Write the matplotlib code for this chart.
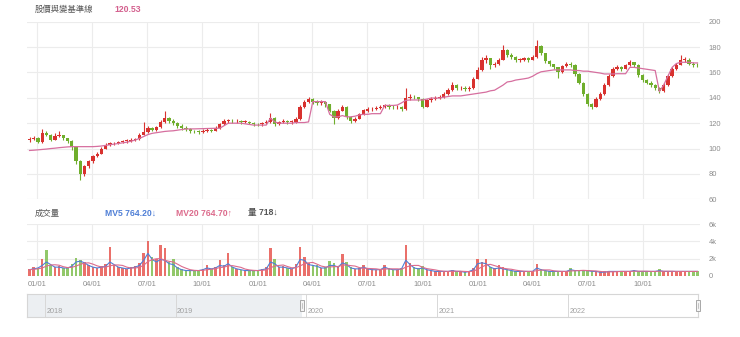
import matplotlib
matplotlib.use("Agg")
import matplotlib.pyplot as plt
import matplotlib.dates as mdates
import numpy as np
import pandas as pd
from matplotlib.patches import Rectangle
from matplotlib.transforms import blended_transform_factory

# ---------------- data (weekly candles) ----------------
start_date = "2019-12-20"

open_ = [106.5, 107.5, 108.5, 105, 112, 111, 107, 110, 110.5, 108,
         106, 101, 90, 80, 86, 90, 94, 96, 100, 103,
         104, 104, 105, 106, 106, 107, 107.5, 111, 113, 116,
         115, 117, 121, 124, 122, 120, 118, 116.5, 115.5, 114,
         113.5, 113, 114, 114.5, 114, 116, 119, 122, 122, 121.5,
         122, 121, 121, 120.5, 119.5, 119, 120, 121, 124, 119,
         121, 122, 121, 121, 123, 133, 137, 139, 137, 136,
         136.5, 135, 130, 124, 130, 133, 125, 122, 123.5, 127,
         130, 131, 131, 132, 133, 134, 133, 132.5, 133, 131,
         140, 141, 140.5, 139, 133, 138, 139, 140, 140.5, 143,
         146, 150, 147.5, 148, 147, 147.5, 155, 162, 170, 171,
         166, 167, 170, 178, 174, 172, 170, 170, 171, 170,
         172, 181, 175, 169, 166.5, 164, 160, 165, 167, 166,
         159, 152, 143, 135, 133, 139, 143, 150, 157, 163,
         164, 163, 165.5, 168, 166, 158, 154, 152, 150, 148,
         145, 150, 157, 163, 166, 170, 170, 167, 166]
high = [109, 110, 109, 115.4, 113.5, 111.5, 112, 113.5, 111, 108.5,
        106.5, 101.5, 91, 87, 91, 95, 97.5, 101, 104, 105,
        105.5, 106, 107, 107.5, 108, 108.5, 112, 121, 117.5, 117,
        118, 122.5, 129.6, 125, 123, 121, 119, 117.5, 116, 115,
        114.5, 115.5, 116, 115.5, 117.5, 120.5, 123.5, 123.5, 123, 123.5,
        122.5, 122.5, 122, 121, 120.5, 121, 122.5, 128, 124.5, 122,
        123, 122.5, 122.5, 125, 134, 138.5, 141, 140, 138.5, 138,
        137, 135.5, 130.5, 131.5, 134.3, 133.5, 126, 124.5, 128, 131,
        132.5, 132.5, 133.5, 134.5, 135.5, 135, 134, 134.5, 133.5, 147.7,
        143, 142.5, 141, 139.5, 139, 140.5, 141.5, 142, 144.5, 147.5,
        152.5, 150.5, 149.5, 149, 149, 156.5, 164, 172, 173.7, 171.5,
        168.5, 171.5, 181.6, 178.5, 175.5, 173, 171.5, 172.5, 172, 174,
        185.6, 182, 175.5, 170, 167, 164.5, 166, 168.5, 168, 166.5,
        159.5, 152.5, 143.5, 136, 140.5, 144.5, 151.5, 158.5, 164.5, 166,
        165, 167, 170, 168.5, 166.5, 158.5, 155, 153, 151, 148.5,
        151.5, 158.5, 164.5, 167.5, 173.7, 172, 171, 168.5, 167.5]
low = [105.5, 106.5, 104, 104.5, 110, 106, 106.5, 109, 107, 104.5,
       99, 88, 75, 78, 85, 89, 93, 95.5, 99.5, 102,
       102.5, 103.5, 104, 104.5, 105, 106, 107, 110.5, 112.5, 113.5,
       114, 116.5, 120, 120.5, 118.5, 116.5, 115, 114, 112.5, 112,
       111.5, 112.5, 113, 113, 113.5, 115.5, 118.5, 120.5, 120, 120.5,
       119.5, 120, 119, 118, 117.5, 118, 119.5, 120.5, 117.5, 118.5,
       120, 119.5, 119.5, 120.5, 122.5, 132, 136, 135.5, 134.5, 134.5,
       133, 128.5, 119, 123.5, 129.5, 123.5, 120.5, 121, 123, 126.5,
       129, 129.5, 130, 131, 132, 131.5, 131.5, 131.5, 129.5, 130.5,
       138.5, 139, 137.5, 132, 132.5, 137, 138, 139, 140, 142.5,
       145.5, 146, 146, 145.5, 145.5, 147, 154.5, 161.5, 167.5, 163,
       164.5, 166, 169.5, 172.5, 170.5, 168.5, 168.5, 169, 168.5, 169.5,
       171.5, 173.5, 167.5, 165, 162.5, 156, 159.5, 164, 164, 157.5,
       150.5, 141.5, 133.5, 131, 132.5, 138, 142.5, 149.5, 156.5, 162,
       161.5, 162.5, 165, 164.5, 156.5, 152.5, 150.5, 148.5, 146.5, 143.8,
       144.5, 149.5, 156.5, 162, 165.5, 168, 165.5, 164.5, 164]
close = [107.5, 108.5, 105, 112, 111, 107, 110, 110.5, 108, 106,
         101, 90, 80, 86, 90, 94, 96, 100, 103, 104,
         104, 105, 106, 106, 107, 107.5, 111, 113, 116, 115,
         117, 121, 124, 122, 120, 118, 116.5, 115.5, 114, 113.5,
         113, 114, 114.5, 114, 116, 119, 122, 122, 121.5, 122,
         121, 121, 120.5, 119.5, 119, 120, 121, 124, 119, 121,
         122, 121, 121, 123, 133, 137, 139, 137, 136, 136.5,
         135, 130, 124, 130, 133, 125, 122, 123.5, 127, 130,
         131, 131, 132, 133, 134, 133, 132.5, 133, 131, 140,
         141, 140.5, 139, 133, 138, 139, 140, 140.5, 143, 146,
         150, 147.5, 148, 147, 147.5, 155, 162, 170, 171, 166,
         167, 170, 178, 174, 172, 170, 170, 171, 170, 172,
         181, 175, 169, 166.5, 164, 160, 165, 167, 166, 159,
         152, 143, 135, 133, 139, 143, 150, 157, 163, 164,
         163, 165.5, 168, 166, 158, 154, 152, 150, 148, 145,
         150, 157, 163, 166, 170, 170, 167, 166, 165.5]
baseline = [98.5, 98.7, 99, 99.3, 99.6, 100, 100.3, 100.7, 101, 101.3,
            101.5, 101.5, 101.5, 101.5, 101.5, 101.5, 101.7, 102, 102.5, 103,
            103.5, 104, 104.5, 105, 105.8, 106.7, 108, 109.5, 111, 112,
            112.5, 113, 113.5, 113.8, 114, 114.5, 115, 115.4, 115.5, 115.5,
            115.6, 115.7, 115.8, 115.9, 116, 116, 118, 120, 120, 120,
            120, 119.5, 119, 118.5, 118.5, 118.5, 118.5, 124, 121, 120,
            120, 120, 120, 120.5, 120.5, 120.5, 121, 137, 137, 137,
            137, 127, 125, 125, 126, 125, 125, 125.5, 126.5, 127,
            127, 127.5, 127.5, 127.5, 134, 134, 134, 134.3, 136, 138,
            138.3, 138.3, 138.3, 138.3, 139, 139.8, 139.8, 139.8, 140.5, 141,
            141.5, 141.5, 141.5, 142, 142.5, 143, 143.5, 144, 144.5, 145.5,
            146, 148, 150, 152.5, 153, 154, 154.5, 155, 155.6, 157,
            159, 160.5, 161, 161.5, 162, 162, 162, 162, 162, 161.5,
            161.5, 161, 161, 160.5, 160, 159.5, 158.8, 158.8, 158.8, 159,
            159, 159, 164, 164, 163.5, 163, 162.5, 162, 161.5, 145,
            150, 157, 164, 167, 168, 168, 168, 167.5, 167.5]
volume_k = [0.8, 1.0, 0.9, 2.0, 3.0, 1.2, 1.0, 1.1, 0.9, 1.0,
            1.4, 2.1, 1.8, 1.6, 1.3, 1.0, 0.9, 1.1, 1.4, 3.4,
            1.3, 1.0, 0.9, 0.8, 1.0, 1.1, 1.5, 2.6, 4.0, 2.2,
            2.0, 3.6, 3.2, 1.6, 2.0, 1.0, 0.8, 0.7, 0.6, 0.6,
            0.7, 0.8, 1.2, 0.8, 1.0, 1.8, 1.2, 2.7, 1.0, 0.8,
            0.7, 0.6, 0.6, 0.7, 0.6, 0.8, 1.0, 3.2, 2.0, 1.0,
            1.1, 0.9, 0.8, 1.4, 3.4, 2.2, 1.5, 1.3, 1.2, 0.9,
            1.0, 1.7, 1.5, 1.1, 2.5, 1.6, 1.0, 0.8, 0.9, 1.3,
            0.9, 0.8, 0.7, 0.8, 1.3, 0.9, 0.7, 0.7, 0.9, 3.6,
            1.5, 1.0, 0.9, 1.1, 0.7, 0.6, 0.5, 0.5, 0.5, 0.6,
            0.7, 0.5, 0.5, 0.4, 0.5, 0.9, 2.0, 1.6, 1.9, 1.0,
            0.9, 1.3, 1.0, 0.8, 0.6, 0.6, 0.5, 0.5, 0.5, 0.6,
            1.4, 0.8, 0.6, 0.5, 0.5, 0.6, 0.5, 0.5, 0.9, 0.6,
            0.6, 0.7, 0.6, 0.5, 0.5, 0.4, 0.5, 0.5, 0.6, 0.5,
            0.5, 0.5, 0.6, 0.7, 0.5, 0.5, 0.6, 0.5, 0.6, 0.8,
            0.5, 0.5, 0.5, 0.6, 0.5, 0.5, 0.6, 0.5, 0.6]
mv5_k = [0.7, 0.8, 0.9, 1.2, 1.6, 1.3, 1.0, 1.0, 0.9, 0.9,
         1.1, 1.6, 1.7, 1.5, 1.2, 1.0, 0.9, 1.0, 1.1, 1.6,
         1.3, 1.0, 0.9, 0.8, 0.9, 1.0, 1.2, 1.8, 2.6, 1.9,
         1.6, 1.9, 1.8, 1.4, 1.3, 0.9, 0.7, 0.6, 0.6, 0.6,
         0.6, 0.7, 0.9, 0.8, 0.9, 1.2, 1.1, 1.4, 1.0, 0.8,
         0.7, 0.6, 0.6, 0.6, 0.6, 0.7, 0.8, 1.6, 1.4, 1.0,
         1.0, 0.9, 0.8, 1.0, 1.9, 1.8, 1.3, 1.2, 1.1, 0.9,
         0.9, 1.2, 1.2, 1.0, 1.5, 1.3, 0.9, 0.8, 0.8, 1.0,
         0.8, 0.7, 0.7, 0.7, 1.0, 0.8, 0.7, 0.7, 0.8, 1.8,
         1.3, 0.9, 0.8, 0.9, 0.7, 0.6, 0.5, 0.5, 0.5, 0.5,
         0.6, 0.5, 0.5, 0.4, 0.5, 0.7, 1.4, 1.5, 1.4, 1.0,
         0.8, 0.9, 0.8, 0.7, 0.6, 0.5, 0.5, 0.5, 0.5, 0.5,
         0.9, 0.7, 0.6, 0.5, 0.5, 0.5, 0.5, 0.5, 0.7, 0.6,
         0.6, 0.6, 0.6, 0.5, 0.5, 0.4, 0.4, 0.5, 0.5, 0.5,
         0.5, 0.5, 0.5, 0.6, 0.5, 0.5, 0.5, 0.5, 0.5, 0.6,
         0.5, 0.5, 0.5, 0.5, 0.5, 0.5, 0.5, 0.5, 0.5]

price_ticks = [60, 80, 100, 120, 140, 160, 180, 200]
volume_ticks = [0, 2, 4, 6]
volume_tick_labels = ["0", "2k", "4k", "6k"]
quarter_dates = ["2020-01-01", "2020-04-01", "2020-07-01", "2020-10-01",
                 "2021-01-01", "2021-04-01", "2021-07-01", "2021-10-01",
                 "2022-01-01", "2022-04-01", "2022-07-01", "2022-10-01"]
slider_years = ["2018", "2019", "2020", "2021", "2022"]
slider_range = ["2017-11-12", "2022-12-30"]

title_text = "股價與變基準線"
title_value = "120.53"
vol_title = "成交量"
mv5_text = "MV5 764.20↓"
mv20_text = "MV20 764.70↑"
vol_text = "量 718↓"

# ---------------- styling ----------------
RED = "#d8322f"
GREEN = "#6fae2c"
VRED = "#e8605a"
VGREEN = "#86c25a"
PINK = "#d66f9f"
BLUE = "#4f7fd6"
MV20C = "#dc6b8c"
GRID = "#ececec"
TXT = "#8c8c8c"
CJK = ["Noto Sans CJK TC", "DejaVu Sans"]
LAT = ["Liberation Sans", "Noto Sans CJK TC", "DejaVu Sans"]

W, H = 740, 337
fig = plt.figure(figsize=(W / 100, H / 100), dpi=100)


def rect(x0, y0, x1, y1):
    return [x0 / W, 1 - y1 / H, (x1 - x0) / W, (y1 - y0) / H]


ax_p = fig.add_axes(rect(27, 21.7, 700, 199.3))
ax_v = fig.add_axes(rect(27, 224.3, 700, 275.7), sharex=ax_p)
ax_s = fig.add_axes(rect(27, 294, 698, 317))

o = np.array(open_, float)
c = np.array(close, float)
h = np.array(high, float)
l = np.array(low, float)
n = len(c)
idx = np.arange(n)
start = pd.Timestamp(start_date)


def pos(d):
    return (pd.Timestamp(d) - start).days / 7.0


up = c >= o
ccol = np.where(up, RED, GREEN)

# candles
ax_p.vlines(idx, l, h, colors=ccol, linewidth=0.8, zorder=3)
body = np.maximum(np.abs(c - o), 0.5)
ax_p.bar(idx, body, bottom=np.minimum(o, c), width=0.78, color=ccol,
         linewidth=0, zorder=4)
ax_p.plot(idx, baseline, color=PINK, linewidth=0.9, zorder=5)

ax_p.set_ylim(price_ticks[0], price_ticks[-1])
ax_p.set_yticks(price_ticks)
ax_p.set_xlim(-0.6, n - 0.4)

# volume
vol = np.array(volume_k, float)
vcol = np.where(up, VRED, VGREEN)
ax_v.bar(idx, vol, width=0.6, color=vcol, linewidth=0, alpha=0.9, zorder=3)
mv5 = pd.Series(mv5_k, dtype=float)
mv20 = mv5.rolling(4, min_periods=1).mean()
ax_v.plot(idx, mv5, color=BLUE, linewidth=0.8, zorder=4)
ax_v.plot(idx, mv20, color=MV20C, linewidth=0.8, zorder=4)
ax_v.set_ylim(volume_ticks[0], volume_ticks[-1])
ax_v.set_yticks(volume_ticks)
ax_v.set_yticklabels(volume_tick_labels)

qpos = [pos(d) for d in quarter_dates]
qlab = [pd.Timestamp(d).strftime("%m/%d") for d in quarter_dates]
ax_v.set_xticks(qpos)
ax_v.set_xticklabels(qlab)

for ax in (ax_p, ax_v):
    for s in ax.spines.values():
        s.set_visible(False)
    ax.yaxis.tick_right()
    ax.tick_params(length=0, labelsize=5.4, labelcolor=TXT, pad=6)
    ax.grid(True, color=GRID, linewidth=0.8, zorder=0)
    ax.set_axisbelow(True)
    for t in ax.get_yticklabels() + ax.get_xticklabels():
        t.set_fontfamily(LAT)
ax_p.tick_params(axis="x", labelbottom=False)
ax_v.tick_params(axis="x", pad=4)
for t in ax_p.get_yticklabels() + ax_v.get_yticklabels():
    t.set_horizontalalignment("left")

# slider
s0, s1 = [mdates.date2num(pd.Timestamp(d)) for d in slider_range]
sel0 = mdates.date2num(start)
ax_s.set_xlim(s0, s1)
ax_s.set_ylim(0, 1)
ax_s.set_xticks([])
ax_s.set_yticks([])
for s in ax_s.spines.values():
    s.set_color("#d6d6d6")
    s.set_linewidth(0.8)
ax_s.axvspan(s0, sel0, color="#eceff2", linewidth=0)
for y in slider_years:
    xd = mdates.date2num(pd.Timestamp(f"{y}-01-01"))
    ax_s.axvline(xd, color="#d8d8d8", linewidth=0.7)
    ax_s.text(xd + 4, 0.22, y, fontsize=5.2, color="#a0a0a0",
              family=LAT, va="center", ha="left")
trans = blended_transform_factory(ax_s.transData, ax_s.transAxes)
days_per_px = (s1 - s0) / 671.0
hw = 4.5 * days_per_px
for xd in (sel0, s1):
    ax_s.add_patch(Rectangle((xd - hw / 2, 0.28), hw, 0.44,
                             transform=trans, facecolor="#f4f4f4",
                             edgecolor="#a8a8a8", linewidth=0.7,
                             clip_on=False, zorder=6))
    ax_s.plot([xd, xd], [0.38, 0.62], transform=trans, color="#b0b0b0",
              linewidth=0.5, clip_on=False, zorder=7)

# header texts


def ftext(x, y, s, **kw):
    fig.text(x / W, 1 - y / H, s, va="center", ha="left", **kw)


ftext(35, 9, title_text, fontsize=6, color="#555555", family=CJK)
ftext(114, 9, title_value, fontsize=6.2, color="#d35f8d", family=LAT,
      fontweight="bold")
ftext(35, 213, vol_title, fontsize=6, color="#555555", family=CJK)
ftext(105, 213, mv5_text, fontsize=6.2, color=BLUE, family=LAT,
      fontweight="bold")
ftext(176, 213, mv20_text, fontsize=6.2, color=MV20C, family=LAT,
      fontweight="bold")
ftext(248, 213, vol_text, fontsize=6.2, color="#555555", family=LAT,
      fontweight="bold")

fig.savefig("out.png", dpi=100, facecolor="white")
